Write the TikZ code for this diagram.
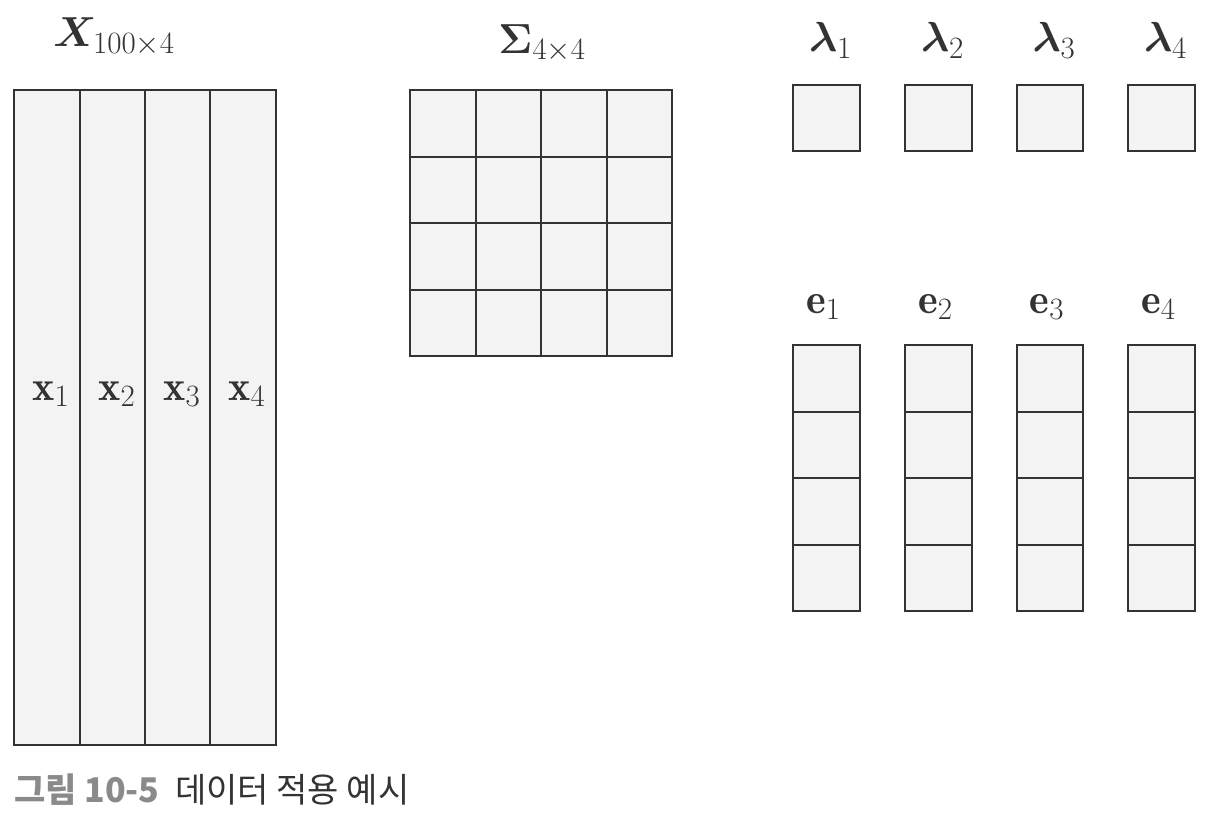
\RequirePackage{fix-cm}
\documentclass[tikz,border=0pt]{standalone}
\usepackage{amsmath}
\usepackage{bm}
\usepackage{fontspec}
\newfontfamily\kr{Noto Sans CJK KR}
\DeclareMathSizes{42}{42}{31}{24}
\definecolor{cellfill}{HTML}{F3F3F3}
\definecolor{edge}{HTML}{333333}
\definecolor{capgray}{HTML}{8A8A8A}
\definecolor{captext}{HTML}{333333}
\tikzset{
  cellbox/.style={fill=cellfill, draw=edge, line width=2pt},
  mlabel/.style={anchor=base, inner sep=0pt, text=edge, font=\fontsize{42}{50}\selectfont},
  caption/.style={anchor=base west, inner sep=0pt, font=\kr\fontsize{34}{40}\selectfont}
}
\begin{document}
\begin{tikzpicture}[x=1pt, y=-1pt]
\useasboundingbox (0,0) rectangle (1220,816);
% X matrix columns
\foreach \a/\b [count=\i] in {14/80, 80/145, 145/210, 210/276}{
  \filldraw[cellbox] (\a,90) rectangle (\b,745);
}
\foreach \cx [count=\i] in {51,117,182,247}{
  \node[mlabel] (xl\i) at (\cx,400) {$\mathbf{x}_{\i}$};
}
\node[mlabel] (Xl) at (114,47) {$\bm{X}_{100\times4}$};
% Sigma grid
\foreach \a/\b in {410/475.5, 475.5/541, 541/606.5, 606.5/672}{
  \foreach \c/\d in {90/156.5, 156.5/223, 223/289.5, 289.5/356}{
    \filldraw[cellbox] (\a,\c) rectangle (\b,\d);
  }
}
\node[mlabel] (Sl) at (542,53) {$\bm{\Sigma}_{4\times4}$};
% lambda boxes and e columns
\foreach \a/\b [count=\i] in {793/860, 905/972, 1017/1083, 1128/1195}{
  \filldraw[cellbox] (\a,84.5) rectangle (\b,150.5);
  \foreach \c/\d in {345/411.5, 411.5/478, 478/544.5, 544.5/611}{
    \filldraw[cellbox] (\a,\c) rectangle (\b,\d);
  }
  \node[mlabel] (ll\i) at ({(\a+\b)/2+4},52) {$\bm{\lambda}_{\i}$};
  \node[mlabel] (el\i) at ({(\a+\b)/2-3},313) {$\mathbf{e}_{\i}$};
}
% caption
\node[caption, text=capgray] (cap1) at (14,802) {\bfseries 그림 10-5};
\node[caption, text=captext] (cap2) at (175,802) {데이터 적용 예시};
\end{tikzpicture}
\end{document}
